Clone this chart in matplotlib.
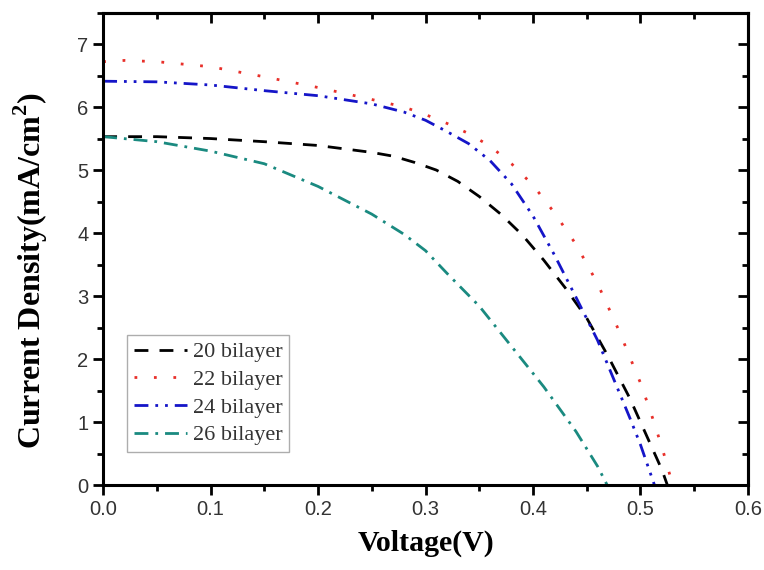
import numpy as np
import matplotlib
matplotlib.use('Agg')
import matplotlib.pyplot as plt
from matplotlib.ticker import MultipleLocator

# J-V data
v20 = [0, 0.05, 0.1, 0.15, 0.2, 0.25, 0.27, 0.29, 0.31, 0.33, 0.35, 0.37, 0.39, 0.41, 0.43, 0.45, 0.47, 0.49, 0.5, 0.51, 0.52, 0.525]
j20 = [5.53, 5.53, 5.50, 5.45, 5.39, 5.28, 5.22, 5.12, 5.0, 4.82, 4.58, 4.30, 3.97, 3.57, 3.13, 2.65, 2.04, 1.38, 1.0, 0.62, 0.24, 0.0]

v22 = [0, 0.02, 0.05, 0.1, 0.15, 0.2, 0.25, 0.28, 0.3, 0.32, 0.34, 0.36, 0.38, 0.4, 0.42, 0.44, 0.46, 0.48, 0.5, 0.51, 0.52, 0.53]
j22 = [6.72, 6.74, 6.72, 6.64, 6.48, 6.31, 6.12, 6.0, 5.88, 5.74, 5.58, 5.38, 5.1, 4.76, 4.32, 3.82, 3.2, 2.45, 1.62, 1.13, 0.6, 0.0]

v24 = [0, 0.05, 0.1, 0.15, 0.2, 0.25, 0.28, 0.3, 0.32, 0.34, 0.36, 0.38, 0.4, 0.42, 0.44, 0.46, 0.48, 0.49, 0.5, 0.513]
j24 = [6.41, 6.40, 6.35, 6.26, 6.18, 6.05, 5.92, 5.79, 5.61, 5.42, 5.15, 4.78, 4.27, 3.65, 2.98, 2.3, 1.48, 1.07, 0.64, 0.0]

v26 = [0, 0.05, 0.1, 0.15, 0.2, 0.25, 0.28, 0.3, 0.32, 0.35, 0.38, 0.41, 0.44, 0.46, 0.469]
j26 = [5.53, 5.45, 5.3, 5.1, 4.74, 4.3, 3.98, 3.72, 3.36, 2.84, 2.2, 1.56, 0.85, 0.3, 0.0]

labels = ['20 bilayer', '22 bilayer', '24 bilayer', '26 bilayer']

fig = plt.figure(figsize=(7.64, 5.7), dpi=100)
ax = fig.add_axes([0.135, 0.149, 0.844, 0.829])

ax.plot(v20, j20, color='black', lw=2, ls=(0, (5, 4)), label=labels[0])
ax.plot(v22, j22, color='#e8302a', lw=2, ls=(0, (1, 6)), label=labels[1])
ax.plot(v24, j24, color='#1515c8', lw=2, ls=(0, (5, 2.5, 1, 2.5, 1, 2.5)), label=labels[2])
ax.plot(v26, j26, color='#1a8a80', lw=2, ls=(0, (5, 2.5, 1, 2.5)), label=labels[3])

ax.set_xlim(0, 0.6)
ax.set_ylim(0, 7.5)
ax.xaxis.set_major_locator(MultipleLocator(0.1))
ax.xaxis.set_minor_locator(MultipleLocator(0.05))
ax.yaxis.set_major_locator(MultipleLocator(1))
ax.yaxis.set_minor_locator(MultipleLocator(0.5))
ax.xaxis.set_major_formatter(plt.FuncFormatter(lambda x, p: '%.1f' % x))

for s in ax.spines.values():
    s.set_linewidth(2.2)
ax.tick_params(which='major', direction='out', length=7, width=2, labelsize=14.5,
               top=False, right=False)
ax.tick_params(which='minor', direction='out', length=4, width=2, top=False, right=False)
for lab in ax.get_xticklabels() + ax.get_yticklabels():
    lab.set_family('Liberation Sans')
    lab.set_color('#333333')

# inward ticks on top and right
top = ax.secondary_xaxis('top')
top.xaxis.set_major_locator(MultipleLocator(0.1))
top.xaxis.set_minor_locator(MultipleLocator(0.05))
top.tick_params(which='major', direction='in', length=7, width=2, labeltop=False)
top.tick_params(which='minor', direction='in', length=4, width=2)
right = ax.secondary_yaxis('right')
right.yaxis.set_major_locator(MultipleLocator(1))
right.yaxis.set_minor_locator(MultipleLocator(0.5))
right.tick_params(which='major', direction='in', length=7, width=2, labelright=False)
right.tick_params(which='minor', direction='in', length=4, width=2)
for s in list(top.spines.values()) + list(right.spines.values()):
    s.set_linewidth(2.2)

ax.set_xlabel('Voltage(V)', family='Liberation Serif', fontweight='bold', fontsize=21.5, labelpad=8)
ax.set_ylabel('Current Density(mA/cm$^\\mathregular{2}$)', family='Liberation Serif',
              fontweight='bold', fontsize=23)
ax.yaxis.set_label_coords(-0.082, 0.455)

leg = ax.legend(loc='lower left', bbox_to_anchor=(0.037, 0.07), prop={'family': 'Liberation Serif', 'size': 16},
                frameon=True, fancybox=False, handlelength=2.4, handletextpad=0.25,
                labelspacing=0.32, borderpad=0.3, borderaxespad=0)
leg.get_frame().set_edgecolor('#999999')
leg.get_frame().set_linewidth(1)
for t in leg.get_texts():
    t.set_color('#333333')

fig.savefig('out.png', dpi=100)
